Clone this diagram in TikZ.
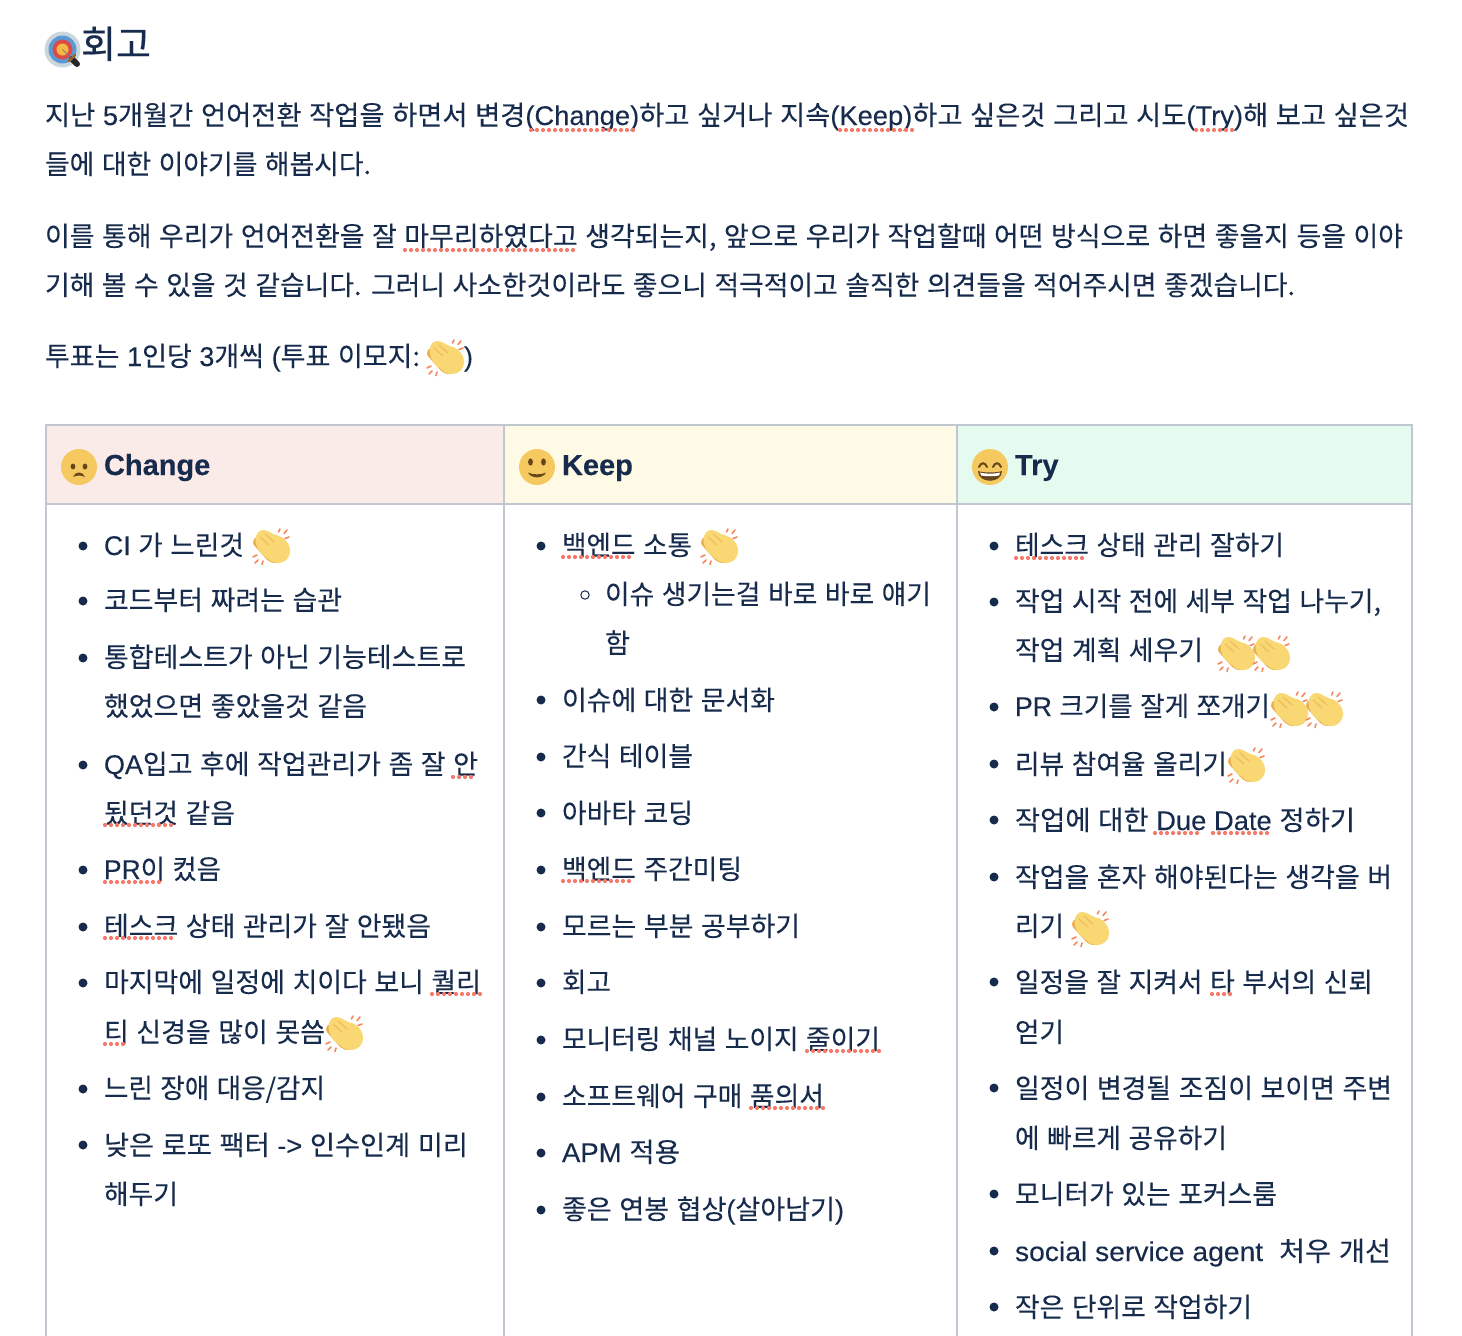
\documentclass[tikz,border=0pt]{standalone}
\usepackage{graphicx}
\usepackage{fontspec}
\setmainfont[WordSpace=1.25,FakeBold=0.12]{Noto Sans CJK KR}
\newfontfamily\lat[FakeBold=0.12]{Liberation Sans}
\newfontfamily\latb[FakeBold=0.2]{Liberation Sans Bold}
\newfontfamily\titlefont[FakeBold=0.5]{Noto Sans CJK KR}
\definecolor{ink}{HTML}{172B4D}
\definecolor{rule}{HTML}{C1C7D0}
\definecolor{hchange}{HTML}{FBEBE8}
\definecolor{hkeep}{HTML}{FEFAE6}
\definecolor{htry}{HTML}{E5FBEF}
\definecolor{squigc}{HTML}{F57A69}
\definecolor{face}{HTML}{F5C95F}
\definecolor{facedark}{HTML}{65471B}
\definecolor{hand}{HTML}{F9D873}
\definecolor{handb}{HTML}{EBAE50}
\definecolor{spark}{HTML}{F2895E}
\definecolor{tgrey}{HTML}{CCD6DD}
\definecolor{tblue}{HTML}{5B9BD5}
\definecolor{tred}{HTML}{DD4A48}
\definecolor{tyellow}{HTML}{F4B942}
\newsavebox\lbox
\newcounter{tn}
\tikzset{
  tx/.style={anchor=base west,inner sep=0pt,outer sep=0pt,text=ink},
  gridline/.style={draw=rule,line width=2pt},
  squig/.style={draw=squigc,line width=4.2pt,line cap=round,dash pattern=on 0pt off 6pt},
  dotb/.style={fill=ink,draw=none},
  pics/clap/.style={code={
    \fill[handb,rounded corners=3pt] (0,16)--(4,9)--(26,30)--(24,37)--(16,34)--cycle;
    \fill[hand,rounded corners=4pt] (5,5)--(12,2)--(25,9)--(31,10)--(38,19)--(38,29)--(31,36)--(21,36)--(7,25)--(3,14)--cycle;
    \draw[handb!70!hand,line width=1.1pt,line cap=round] (8,10)--(17,18) (13,7)--(22,15);
    \draw[spark,line width=1.6pt,line cap=round] (26.5,5)--(28,2) (32,6.5)--(35,3) (33,11.5)--(37,10)
      (1,30)--(5,28) (3,36)--(6,33) (10,37.5)--(11,34);
  }}
}
\newcommand\tline[4]{%
  \stepcounter{tn}%
  \node[tx] (t\arabic{tn}) at (#1,#2) {\fontsize{27}{27}\selectfont
    \sbox\lbox{#4}%
    \pgfmathsetmacro\lr{(#3-#1)/\the\wd\lbox}%
    \scalebox{\lr}[1]{\usebox\lbox}};}
\newcommand\squigl[3]{\draw[squig] (#1,#3) -- (#2,#3);}
\begin{document}
\begin{tikzpicture}[x=1pt,y=-1pt]
\useasboundingbox (0,0) rectangle (1462,1336);
% table
\fill[hchange] (46,424) rectangle (504,504);
\fill[hkeep] (504,424) rectangle (957,504);
\fill[htry] (957,424) rectangle (1412,504);
\draw[gridline] (46,1336) -- (46,425) -- (1412,425) -- (1412,1336);
\draw[gridline] (46,504) -- (1412,504);
\draw[gridline] (504,425) -- (504,1336);
\draw[gridline] (957,425) -- (957,1336);
% target emoji
\fill[tgrey] (62.5,49.5) circle (18);
\fill[tblue] (62.5,49.5) circle (14);
\fill[tred] (62.5,49.5) circle (10);
\fill[tyellow] (62.5,49.5) circle (6);
\draw[gray,line width=1pt] (62.5,49.5) -- (72,59);
\draw[black!85,line width=6pt,line cap=round] (72,59) -- (77,64);
\draw[brown!80!black,line width=2.5pt,line cap=round] (69,61) -- (75,55);
% title
\node[tx] (title) at (81,58) {\fontsize{38}{38}\selectfont\titlefont 회고};
% paragraphs
\tline{45}{125}{1409}{지난 {\lat 5}개월간 언어전환 작업을 하면서 변경{\lat (Change)}하고 싶거나 지속{\lat (Keep)}하고 싶은것 그리고 시도{\lat (Try)}해 보고 싶은것}
\tline{45}{174}{371}{들에 대한 이야기를 해봅시다.}
\tline{45}{246}{1403}{이를 통해 우리가 언어전환을 잘 마무리하였다고 생각되는지, 앞으로 우리가 작업할때 어떤 방식으로 하면 좋을지 등을 이야}
\tline{45}{295}{1295}{기해 볼 수 있을 것 같습니다. 그러니 사소한것이라도 좋으니 적극적이고 솔직한 의견들을 적어주시면 좋겠습니다.}
\tline{45}{366}{420}{투표는 {\lat 1}인당 {\lat 3}개씩 {\lat (}투표 이모지:}
\node[tx] (closep) at (464,366) {\fontsize{27}{27}\selectfont\lat )};
\pic at (426,338) {clap};
\squigl{531}{638}{130}
\squigl{840}{912}{130}
\squigl{1196}{1232}{130}
\squigl{405}{576}{250}
% headers
\fill[face] (79,467) circle (18);
\fill[facedark] (73,466.5) ellipse (2.4 and 3);
\fill[facedark] (85,466.5) ellipse (2.4 and 3);
\fill[facedark] (73,477) .. controls (75,471) and (83,471) .. (85,477) .. controls (81,475) and (77,475) .. (73,477) -- cycle;
\node[tx] (hc) at (104,475) {\fontsize{29}{29}\selectfont\latb Change};
\fill[face] (537,467) circle (18);
\fill[facedark] (530.5,462) ellipse (2.4 and 3.6);
\fill[facedark] (543.5,462) ellipse (2.4 and 3.6);
\fill[facedark] (528,472.5) .. controls (533,475) and (541,475) .. (546,472.5) .. controls (543,479) and (531,479) .. (528,472.5) -- cycle;
\node[tx] (hk) at (562,475) {\fontsize{29}{29}\selectfont\latb Keep};
\fill[face] (990,467) circle (18);
\draw[facedark,line width=2pt,line cap=round] (979,467) .. controls (981,462) and (985,462) .. (987,467);
\draw[facedark,line width=2pt,line cap=round] (993,467) .. controls (995,462) and (999,462) .. (1001,467);
\fill[facedark] (978,471) .. controls (984,473) and (996,473) .. (1002,471) .. controls (1002,484) and (978,484) .. (978,471) -- cycle;
\fill[white] (980,472.5) .. controls (985,474) and (995,474) .. (1000,472.5) -- (999,475.5) .. controls (994,476.5) and (986,476.5) .. (981,475.5) -- cycle;
\node[tx] (ht) at (1015,475) {\fontsize{29}{29}\selectfont\latb Try};
% bullets
\foreach \y in {546,601,658,765,870,927,983,1089,1145} \fill[dotb] (83,\y) circle (4.5);
\foreach \y in {546,700,757,813,870,927,983,1040,1097,1153,1210} \fill[dotb] (541,\y) circle (4.5);
\foreach \y in {546,602,707,764,820,877,982,1088,1194,1251,1307} \fill[dotb] (994,\y) circle (4.5);
\draw[ink,line width=1pt] (585,595) circle (4.2);
% column 1
\tline{104}{555}{244}{{\lat CI} 가 느린것}
\pic at (252,527) {clap};
\tline{104}{610}{342}{코드부터 짜려는 습관}
\tline{104}{667}{466}{통합테스트가 아닌 기능테스트로}
\tline{104}{716}{367}{했었으면 좋았을것 같음}
\tline{104}{774}{478}{{\lat QA}입고 후에 작업관리가 좀 잘 안}
\tline{104}{823}{235}{됬던것 같음}
\tline{104}{879}{221}{{\lat PR}이 컸음}
\tline{104}{936}{431}{테스크 상태 관리가 잘 안됐음}
\tline{104}{992}{481}{마지막에 일정에 치이다 보니 퀄리}
\tline{104}{1042}{325}{티 신경을 많이 못씀}
\pic at (325,1014) {clap};
\tline{104}{1098}{325}{느린 장애 대응/감지}
\tline{104}{1155}{468}{낮은 로또 팩터 {\lat ->} 인수인계 미리}
\tline{104}{1204}{178}{해두기}
\squigl{453}{473}{777}
\squigl{105}{175}{825}
\squigl{105}{160}{882}
\squigl{105}{175}{938}
\squigl{432}{480}{994}
\squigl{105}{123}{1044}
% column 2
\tline{562}{555}{692}{백엔드 소통}
\pic at (700,527) {clap};
\tline{605}{604}{931}{이슈 생기는걸 바로 바로 얘기}
\tline{605}{653}{630}{함}
\tline{562}{710}{775}{이슈에 대한 문서화}
\tline{562}{766}{693}{간식 테이블}
\tline{562}{823}{693}{아바타 코딩}
\tline{562}{879}{742}{백엔드 주간미팅}
\tline{562}{936}{800}{모르는 부분 공부하기}
\tline{562}{992}{611}{회고}
\tline{562}{1049}{880}{모니터링 채널 노이지 줄이기}
\tline{562}{1106}{824}{소프트웨어 구매 품의서}
\tline{562}{1162}{680}{{\lat APM} 적용}
\tline{562}{1219}{844}{좋은 연봉 협상{\lat (}살아남기{\lat )}}
\squigl{563}{634}{557}
\squigl{563}{634}{881}
\squigl{807}{880}{1051}
\squigl{751}{824}{1108}
% column 3
\tline{1015}{555}{1284}{테스크 상태 관리 잘하기}
\tline{1015}{611}{1381}{작업 시작 전에 세부 작업 나누기,}
\tline{1015}{660}{1203}{작업 계획 세우기}
\pic at (1217,634) {clap};
\pic at (1252,634) {clap};
\tline{1015}{716}{1270}{{\lat PR} 크기를 잘게 쪼개기}
\pic at (1270,690) {clap};
\pic at (1305,690) {clap};
\tline{1015}{774}{1227}{리뷰 참여율 올리기}
\pic at (1227,746) {clap};
\tline{1015}{830}{1355}{작업에 대한 {\lat Due Date} 정하기}
\tline{1015}{887}{1392}{작업을 혼자 해야된다는 생각을 버}
\tline{1015}{936}{1064}{리기}
\pic at (1071,909) {clap};
\tline{1015}{992}{1373}{일정을 잘 지켜서 타 부서의 신뢰}
\tline{1015}{1042}{1064}{얻기}
\tline{1015}{1098}{1392}{일정이 변경될 조짐이 보이면 주변}
\tline{1015}{1148}{1227}{에 빠르게 공유하기}
\tline{1015}{1204}{1277}{모니터가 있는 포커스룸}
\tline{1015}{1261}{1391}{{\lat social service agent}\ \ 처우 개선}
\tline{1015}{1317}{1252}{작은 단위로 작업하기}
\squigl{1016}{1086}{558}
\squigl{1155}{1202}{833}
\squigl{1213}{1268}{833}
\squigl{1212}{1232}{994}
\end{tikzpicture}
\end{document}
